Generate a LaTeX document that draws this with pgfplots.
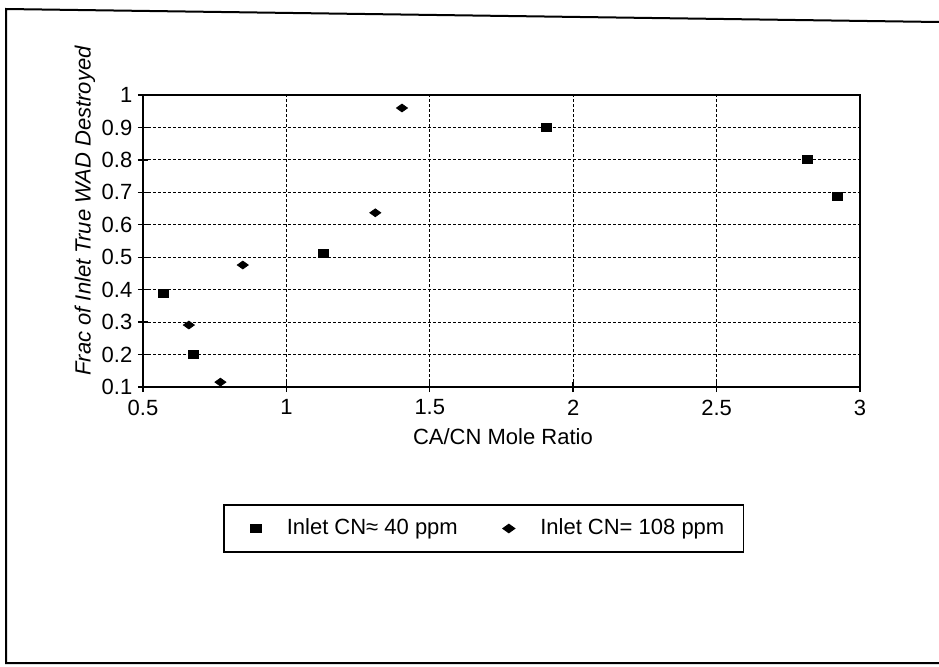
\documentclass[border=0pt]{standalone}
\usepackage{fontspec}
\setmainfont{Liberation Sans}
\usepackage{pgfplots}
\pgfplotsset{compat=1.18}
\begin{document}
\fontsize{11}{13}\selectfont
\begin{tikzpicture}[x=1pt,y=1pt]
\useasboundingbox (0,0) rectangle (469.5,333);
\draw[line width=1pt] (469.5,322) -- (3,328.5) -- (3,1.5) -- (469.5,1.5);
\begin{axis}[
  at={(71.5pt,139.5pt)}, anchor=south west,
  scale only axis, width=358.5pt, height=146pt,
  xmin=0.5, xmax=3, ymin=0.1, ymax=1,
  xtick={0.5,1,1.5,2,2.5,3},
  xticklabels={0.5,1,1.5,2,2.5,3},
  ytick={0.1,0.2,0.3,0.4,0.5,0.6,0.7,0.8,0.9,1},
  yticklabels={0.1,0.2,0.3,0.4,0.5,0.6,0.7,0.8,0.9,1},
  tick pos=left, tick align=center,
  major tick length=5pt,
  tick style={black, line width=0.7pt},
  axis line style={line width=1pt},
  grid=major,
  major grid style={black, dash pattern=on 1.6pt off 0.9pt, line width=0.6pt},
  /pgf/number format/assume math mode=true,
  ticklabel style={font=\fontsize{11}{13}\selectfont},
  yticklabel style={xshift=1pt},
  xlabel={CA/CN Mole Ratio},
  xlabel style={at={(axis description cs:0.502,-0.171)}, anchor=center, font=\fontsize{11}{13}\selectfont},
  ylabel={Frac of Inlet True WAD Destroyed},
  ylabel style={at={(axis description cs:-0.0809,0.603)}, anchor=center, font=\fontsize{11}{13}\selectfont\itshape},
  legend columns=2,
  legend image code/.code={
    \path[draw=none] (0.3cm-8.5pt,0pt);
    \draw[mark repeat=2,mark phase=2,#1] plot coordinates {(0cm,0cm) (0.3cm,0cm) (0.6cm,0cm)};},
  legend style={at={(axis description cs:0.475,-0.4846)}, anchor=center, draw=black, line width=0.8pt,
    inner xsep=7.5pt, inner ysep=5pt, font=\fontsize{11}{13}\selectfont,
    /tikz/every odd column/.append style={column sep=11pt},
    /tikz/every even column/.append style={column sep=15pt}},
]
\addplot[only marks, mark=square*, mark size=2.5pt, mark options={fill=black, yscale=0.8}]
  coordinates {(0.57,0.39) (0.675,0.20) (1.128,0.512) (1.905,0.899) (2.815,0.80) (2.92,0.686)};
\addlegendentry{Inlet CN≈ 40 ppm}
\addplot[only marks, mark=diamond*, mark size=2.6pt, mark options={fill=black, xscale=1.4, yscale=0.75}]
  coordinates {(0.66,0.291) (0.77,0.115) (0.848,0.476) (1.31,0.637) (1.403,0.96)};
\addlegendentry{Inlet CN= 108 ppm}
\end{axis}
\end{tikzpicture}
\end{document}
